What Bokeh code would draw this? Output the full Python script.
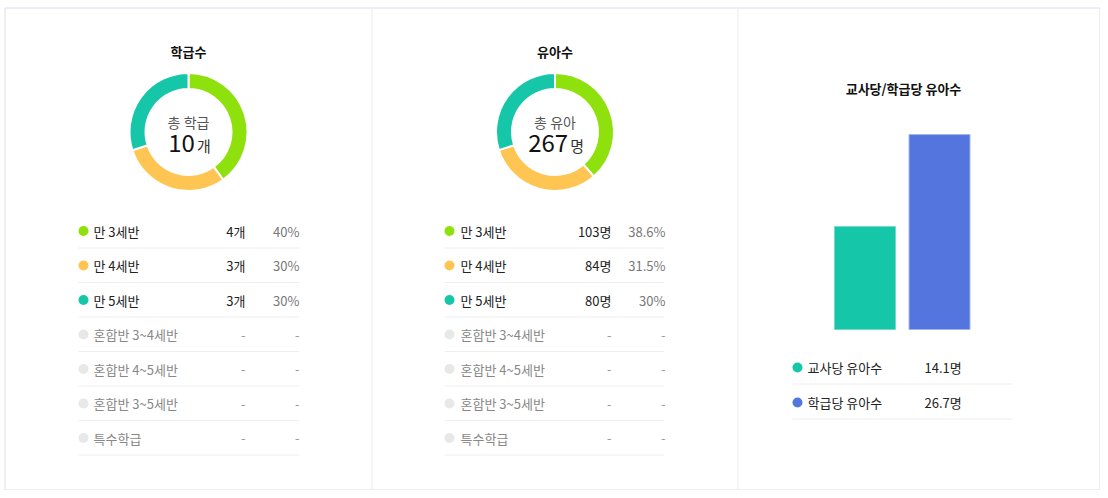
import math
from bokeh.plotting import figure
from bokeh.models import Range1d
from bokeh.core.properties import value
from bokeh.embed import file_html
from bokeh.resources import INLINE

FONT = "Noto Sans CJK KR"

# ---------------- data ----------------
class_title = "학급수"
child_title = "유아수"
ratio_title = "교사당/학급당 유아수"
class_center_label = "총 학급"
child_center_label = "총 유아"
class_total = 10
child_total = 267
class_unit = "개"
child_unit = "명"

categories = ["만 3세반", "만 4세반", "만 5세반", "혼합반 3~4세반",
              "혼합반 4~5세반", "혼합반 3~5세반", "특수학급"]
class_counts = [4, 3, 3, None, None, None, None]
class_pct = ["40%", "30%", "30%", "-", "-", "-", "-"]
child_counts = [103, 84, 80, None, None, None, None]
child_pct = ["38.6%", "31.5%", "30%", "-", "-", "-", "-"]
cat_colors = ["#8ee10d", "#ffc552", "#16c6a8", "#e8e8e8", "#e8e8e8", "#e8e8e8", "#e8e8e8"]

ratio_labels = ["교사당 유아수", "학급당 유아수"]
ratio_values = [14.1, 26.7]
ratio_colors = ["#16c6a8", "#5474de"]
ratio_edge = ["#6fdcc8", "#a3b4ee"]

# ---------------- figure ----------------
W, H = 1100, 490
RIGHT, BOTTOM = W - 0.5, H - 0.5
p = figure(width=W, height=H, output_backend="svg", toolbar_location=None,
           x_range=Range1d(0, W), y_range=Range1d(-H, 0),
           min_border=0, outline_line_color=None)
p.xaxis.visible = False
p.yaxis.visible = False
p.grid.visible = False
p.background_fill_color = "white"

# bar scale: zero at y=329, 7.3 px per unit
p.extra_y_ranges = {"bar": Range1d(-(H - 329) / 7.3, 329 / 7.3)}


def txt(x, y, s, size="13px", color="#222222", align="left", bold=False):
    p.text(x=[x], y=[-y], text=[s], text_font=value(FONT), text_font_size=size,
           text_color=color, text_align=align, text_baseline="middle",
           text_font_style="bold" if bold else "normal")


# frame and dividers
p.quad(left=[4.5], right=[RIGHT], top=[-7.5], bottom=[-BOTTOM],
       fill_color=None, line_color="#dcdcee", line_width=1)
p.segment(x0=[371.5, 737.5], x1=[371.5, 737.5], y0=[-8, -8], y1=[-(BOTTOM - 0.5)] * 2,
          line_color="#ececec", line_width=1)


def donut_panel(cx, title, counts, pcts, total, center_label, unit,
                dot_x, lab_x, cnt_r, pct_r, line_l, line_r):
    cy = 131.5
    txt(cx, 51, title, size="13px", color="#111111", align="center", bold=True)
    vals = [c for c in counts if c is not None]
    s = sum(vals)
    cum = 0
    for v, col in zip(vals, cat_colors):
        a0 = math.pi / 2 - 2 * math.pi * cum / s
        cum += v
        a1 = math.pi / 2 - 2 * math.pi * cum / s
        p.annular_wedge(x=[cx], y=[-cy], inner_radius=43, outer_radius=59,
                        start_angle=[a0], end_angle=[a1], direction="clock",
                        fill_color=col, line_color="white", line_width=2)
    txt(cx, 121, center_label, size="14px", color="#555555", align="center")
    num = str(total)
    num_w = len(num) * 0.56 * 24
    unit_w = 12
    gap = 2
    left = cx - (num_w + gap + unit_w) / 2
    txt(left + num_w, 142, num, size="24px", color="#111111", align="right")
    txt(left + num_w + gap, 145, unit, size="15px", color="#333333", align="left")

    row_y0, step = 230.5, 34.5
    for i, cat in enumerate(categories):
        y = row_y0 + i * step
        active = counts[i] is not None
        p.scatter(x=[dot_x], y=[-y], size=10, fill_color=cat_colors[i], line_color=None)
        txt(lab_x, y, cat, color="#222222" if active else "#888888")
        txt(cnt_r, y, f"{counts[i]}{unit}" if active else "-",
            color="#222222" if active else "#999999", align="right")
        txt(pct_r, y, pcts[i], color="#777777" if active else "#999999", align="right")
        ly = y + 17
        p.segment(x0=[line_l], x1=[line_r], y0=[-ly], y1=[-ly], line_color="#eeeeee", line_width=1)


donut_panel(188, class_title, class_counts, class_pct, class_total, class_center_label,
            class_unit, 83, 93, 245, 299, 78, 299)
donut_panel(554.5, child_title, child_counts, child_pct, child_total, child_center_label,
            child_unit, 449, 460, 611, 665, 444, 664)

# ratio panel
txt(903, 88, ratio_title, size="13px", color="#111111", align="center", bold=True)
p.vbar(x=[864.5, 939], width=61, bottom=0, top=ratio_values, fill_color=ratio_colors,
       line_color=ratio_edge, line_width=1, y_range_name="bar")
for i, (lab, v) in enumerate(zip(ratio_labels, ratio_values)):
    y = 367 + i * 35
    p.scatter(x=[797], y=[-y], size=10, fill_color=ratio_colors[i], line_color=None)
    txt(807, y, lab, color="#222222")
    txt(924, y, f"{v}명", color="#222222")
    p.segment(x0=[792], x1=[1012], y0=[-(y + 16.5)], y1=[-(y + 16.5)],
              line_color="#eeeeee", line_width=1)

open("out.html", "w").write(file_html(p, INLINE))
